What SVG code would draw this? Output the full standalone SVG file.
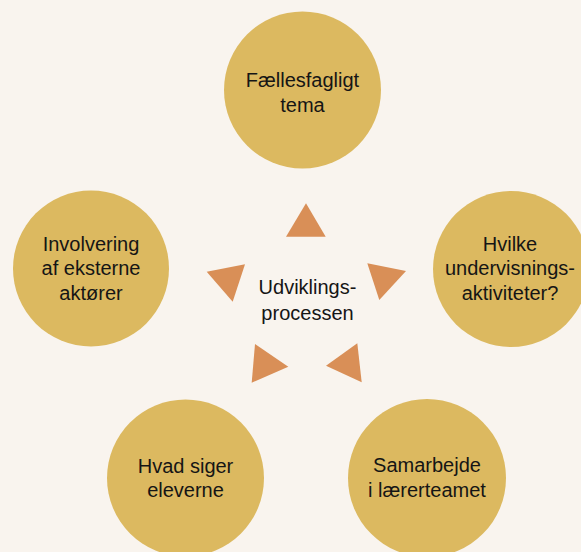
<svg xmlns="http://www.w3.org/2000/svg" width="581" height="552" viewBox="0 0 581 552">
<style>
.c{fill:#dcb960;}
.t{font-family:"Liberation Sans",Arial,sans-serif;font-size:20px;fill:#151515;text-anchor:middle;}
.a{fill:#d98f57;}
</style>
<rect width="581" height="552" fill="#f9f4ee"/>
<g id="node-fag"><circle class="c" cx="302.5" cy="90" r="78.5"/><text class="t" x="302.5" y="87">Fællesfagligt</text><text class="t" x="302.5" y="112">tema</text></g>
<g id="node-aktiviteter"><circle class="c" cx="511" cy="269" r="78"/><text class="t" x="510" y="251">Hvilke</text><text class="t" x="510" y="275">undervisnings-</text><text class="t" x="510" y="300">aktiviteter?</text></g>
<g id="node-samarbejde"><circle class="c" cx="427" cy="478" r="79"/><text class="t" x="427" y="472">Samarbejde</text><text class="t" x="427" y="497">i lærerteamet</text></g>
<g id="node-elever"><circle class="c" cx="185.5" cy="478" r="78.5"/><text class="t" x="185.5" y="473">Hvad siger</text><text class="t" x="185.5" y="497">eleverne</text></g>
<g id="node-aktorer"><circle class="c" cx="91" cy="268.5" r="78"/><text class="t" x="91" y="251">Involvering</text><text class="t" x="91" y="275">af eksterne</text><text class="t" x="91" y="300">aktører</text></g>
<g id="node-center"><text class="t" x="307.5" y="294">Udviklings-</text><text class="t" x="307.5" y="320">processen</text></g>
<g id="connectors">
<polygon class="a" points="306,203.3 286,236.7 325.7,236.7"/>
<polygon class="a" points="367.3,263.3 406,271 379.3,300"/>
<polygon class="a" points="245,264.3 206.7,271.7 232.7,301.7"/>
<polygon class="a" points="255,344 288.3,366.7 251.7,382.7"/>
<polygon class="a" points="357.3,343.3 326,365.7 361.7,382.3"/>
</g>
</svg>
